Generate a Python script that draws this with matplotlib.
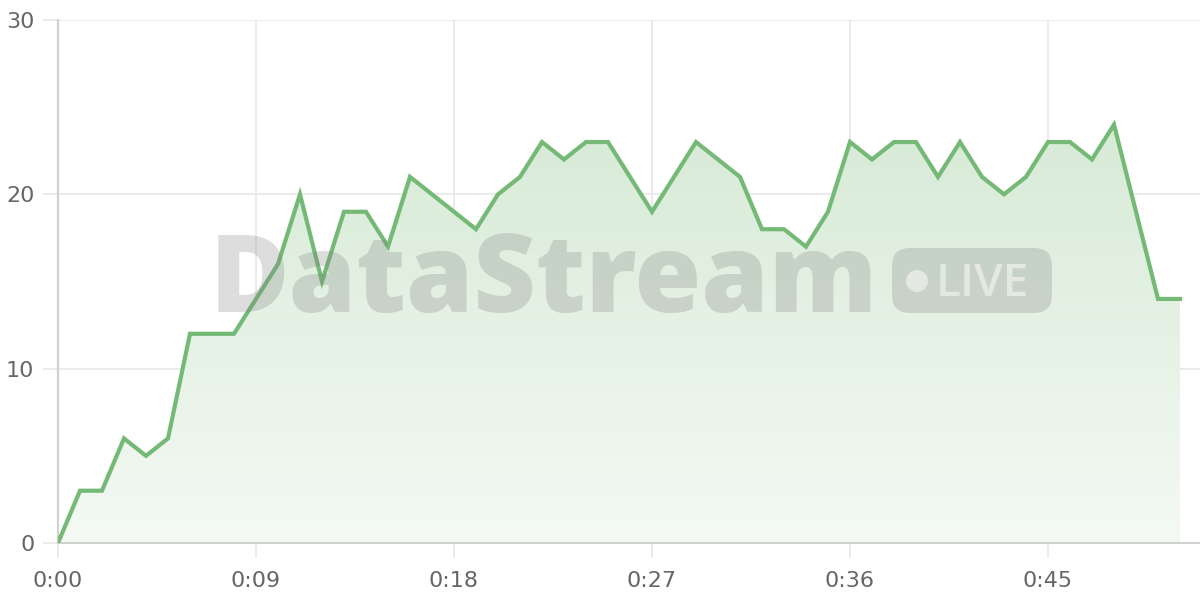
import numpy as np
import matplotlib.pyplot as plt
from matplotlib.colors import LinearSegmentedColormap
from matplotlib.patches import FancyBboxPatch, Circle

# Values per second (0:00 .. 0:51)
seconds = list(range(52))
values = [0, 3, 3, 6, 5, 6, 12, 12, 12, 14, 16, 20, 15, 19, 19, 17, 21, 20, 19, 18,
          20, 21, 23, 22, 23, 23, 21, 19, 21, 23, 22, 21, 18, 18, 17, 19, 23, 22, 23, 23,
          21, 23, 21, 20, 21, 23, 23, 22, 24, 19, 14, 14]
x_ticks = [0, 9, 18, 27, 36, 45]
x_labels = ['0:00', '0:09', '0:18', '0:27', '0:36', '0:45']
y_ticks = [0, 10, 20, 30]

LINE = '#74b976'
GRID = '#e8e8e8'
TEXT = '#666666'

fig = plt.figure(figsize=(12, 6), dpi=100)
ax = fig.add_axes([58 / 1200, 1 - 543 / 600, 1 - 58 / 1200, (543 - 20) / 600])

ax.set_xlim(0, (1200 - 58) / 22)
ax.set_ylim(0, 30)

# gradient fill under the line
poly = ax.fill_between(seconds, values, 0, color='none', lw=0)
grad = np.linspace(0, 1, 256).reshape(-1, 1)
cmap = LinearSegmentedColormap.from_list('g', ['#f4f9f4', '#d6ead5'])
img = ax.imshow(grad, cmap=cmap, aspect='auto', origin='lower',
                extent=[0, seconds[-1], 0, 25], zorder=1)
img.set_clip_path(poly.get_paths()[0], transform=ax.transData)

ax.plot(seconds, values, color=LINE, lw=3, zorder=4, solid_joinstyle='miter')

ax.set_xticks(x_ticks)
ax.set_xticklabels(x_labels)
ax.set_yticks(y_ticks)
ax.grid(True, color=GRID, lw=1.2, zorder=0)
ax.set_axisbelow(True)
ax.tick_params(colors=GRID, labelcolor=TEXT, labelsize=16, length=11, width=1.2)
ax.tick_params(axis='x', pad=9)
ax.tick_params(axis='y', pad=6)
for side in ['top', 'right']:
    ax.spines[side].set_visible(False)
ax.spines['left'].set_color('#d0d0d0')
ax.spines['bottom'].set_color('#d0d0d0')
ax.spines['left'].set_linewidth(1.5)
ax.spines['bottom'].set_linewidth(1.5)

# watermark
fig.text(210, 600 - 312, 'DataStream', fontsize=78, fontweight='heavy', family='Open Sans',
         color='#7f7f7f', alpha=0.26, ha='left', va='baseline', transform=None, zorder=3)
badge = FancyBboxPatch((892 + 18, 600 - 313 + 18), 160 - 36, 65 - 36,
                       boxstyle='round,pad=18', transform=None,
                       fc='#7f7f7f', ec='none', alpha=0.26, zorder=3)
fig.patches.append(badge)
fig.patches.append(Circle((917, 600 - 281), 11, transform=None, fc='white', ec='none',
                          alpha=0.5, zorder=3))
fig.text(936, 600 - 296, 'LIVE', fontsize=33, fontweight='semibold', family='Open Sans',
         color='white', alpha=0.5, ha='left', va='baseline', transform=None, zorder=3)

fig.savefig('out.png', dpi=100)
